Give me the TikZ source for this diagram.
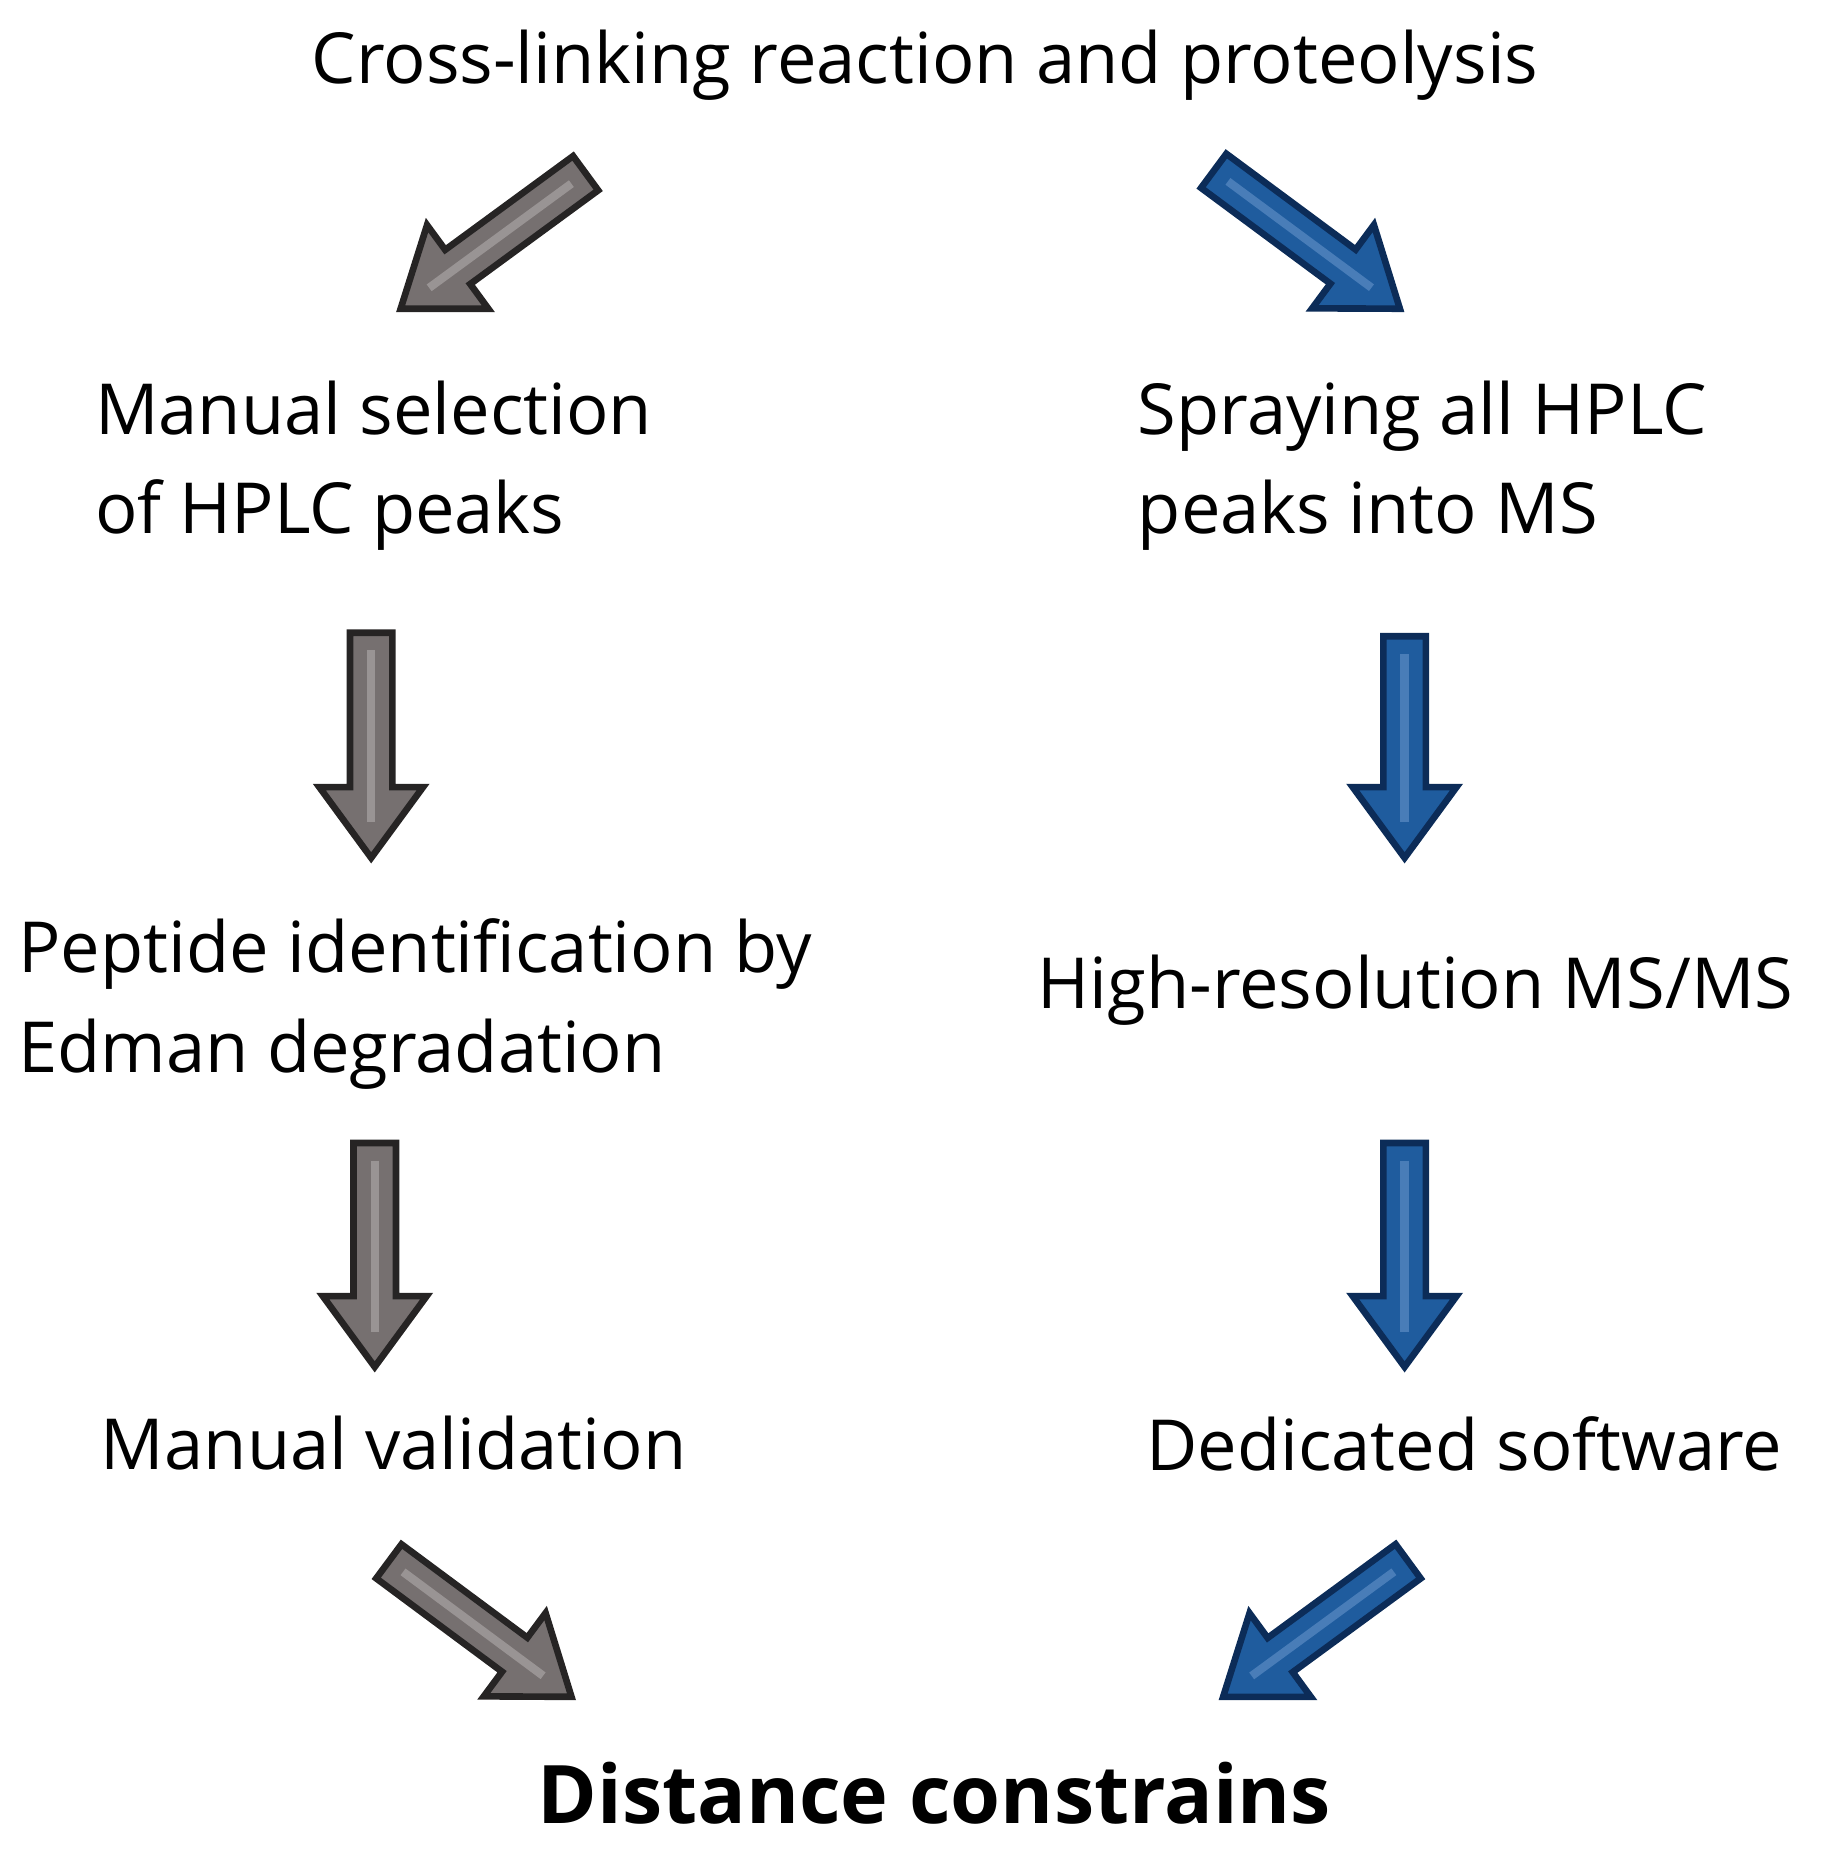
\documentclass[tikz,border=0pt]{standalone}
\usepackage{fontspec}
\setmainfont{Open Sans}
\usetikzlibrary{calc}
\definecolor{gfill}{HTML}{767070}
\definecolor{gline}{HTML}{262424}
\definecolor{ghi}{HTML}{A9A4A4}
\definecolor{bfill}{HTML}{1F5C9E}
\definecolor{bline}{HTML}{0C2C58}
\definecolor{bhi}{HTML}{5B8CC4}
\tikzset{
  lbl/.style={font=\fontsize{17}{24}\selectfont, inner sep=0pt, align=left},
  garr/.style={fill=gfill, draw=gline, line width=1.6pt, line join=miter},
  barr/.style={fill=bfill, draw=bline, line width=1.6pt, line join=miter},
}
\newcommand\fatarr[5]{%
  \coordinate (#1s) at #3; \coordinate (#1e) at #4;
  \coordinate (#1m) at ($(#1e)!0.6cm!(#1s)$);
  \draw[#2] ($(#1s)!0.18cm!90:(#1e)$) -- ($(#1m)!0.18cm!90:(#1e)$) -- ($(#1m)!0.44cm!90:(#1e)$)
    -- (#1e) -- ($(#1m)!0.44cm!-90:(#1e)$) -- ($(#1m)!0.18cm!-90:(#1e)$) -- ($(#1s)!0.18cm!-90:(#1e)$) -- cycle;
  \draw[#5, line width=2pt, opacity=0.7] ($(#1s)!0.15cm!(#1e)$) -- ($(#1e)!0.3cm!(#1s)$);
}
\begin{document}
\begin{tikzpicture}[x=0.01cm,y=-0.01cm]
\useasboundingbox (0,0) rectangle (1568,1570);
\node[lbl, anchor=center] (t) at (785,55) {Cross-linking reaction and proteolysis};
\node[lbl, anchor=west] (l1) at (80,395) {Manual selection\\of HPLC peaks};
\node[lbl, anchor=west] (r1) at (965,395) {Spraying all HPLC\\peaks into MS};
\node[lbl, anchor=west] (l2) at (15,852) {Peptide identification by\\Edman degradation};
\node[lbl, anchor=west] (r2) at (880,840) {High-resolution MS/MS};
\node[lbl, anchor=west] (l3) at (85,1225) {Manual validation};
\node[lbl, anchor=west] (r3) at (972,1225) {Dedicated software};
\node[inner sep=0pt, font=\bfseries\fontsize{19.5}{24}\selectfont] (d) at (793,1522) {Distance constrains};
\fatarr{a}{garr}{(497,147)}{(340,262)}{ghi}
\fatarr{b}{barr}{(1030,145)}{(1188,262)}{bhi}
\fatarr{c}{garr}{(315,537)}{(315,728)}{ghi}
\fatarr{e}{barr}{(1192,540)}{(1192,728)}{bhi}
\fatarr{f}{garr}{(318,970)}{(318,1160)}{ghi}
\fatarr{g}{barr}{(1192,970)}{(1192,1160)}{bhi}
\fatarr{h}{garr}{(330,1325)}{(485,1440)}{ghi}
\fatarr{k}{barr}{(1195,1325)}{(1038,1440)}{bhi}
\end{tikzpicture}
\end{document}
